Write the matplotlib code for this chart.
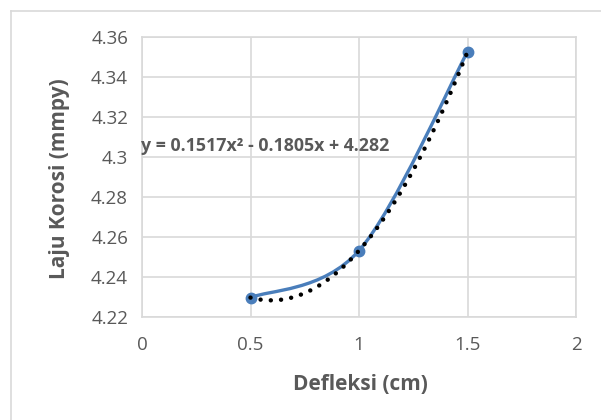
import numpy as np
import matplotlib
matplotlib.use("Agg")
import matplotlib.pyplot as plt
from matplotlib.path import Path
from matplotlib.patches import PathPatch
from matplotlib.lines import Line2D

# Data
defleksi = [0.5, 1.0, 1.5]
laju_korosi = [4.2297, 4.2532, 4.3526]
x_ticks = [0, 0.5, 1, 1.5, 2]
y_ticks = [4.22, 4.24, 4.26, 4.28, 4.30, 4.32, 4.34, 4.36]
y_tick_labels = ["4.22", "4.24", "4.26", "4.28", "4.3", "4.32", "4.34", "4.36"]
equation = "y = 0.1517x² - 0.1805x + 4.282"
x_title = "Defleksi (cm)"
y_title = "Laju Korosi (mmpy)"

W, H = 601, 420
fig = plt.figure(figsize=(W / 100, H / 100), dpi=100)
font = "Open Sans"
tick_color = "#595959"
grid_color = "#D9D9D9"
blue = "#4A7EBB"

# chart frame (left/top edges visible)
fig.add_artist(Line2D([11 / W, 11 / W], [0, 1 - 11 / H], color=grid_color, lw=1.2))
fig.add_artist(Line2D([11 / W, 1], [1 - 11 / H, 1 - 11 / H], color=grid_color, lw=1.2))

L, R, T, B = 142, 576, 37, 317
ax = fig.add_axes([L / W, 1 - B / H, (R - L) / W, (B - T) / H])
ax.set_xlim(0, 2)
ax.set_ylim(4.22, 4.36)
ax.set_xticks(x_ticks)
ax.set_xticklabels([("%g" % v) for v in x_ticks])
ax.set_yticks(y_ticks)
ax.set_yticklabels(y_tick_labels)
ax.grid(True, color=grid_color, lw=1.2)
ax.set_axisbelow(True)
for s in ax.spines.values():
    s.set_color(grid_color)
    s.set_linewidth(1.2)
ax.tick_params(length=0, colors=tick_color, labelsize=13.5, pad=10)
for lab in ax.get_xticklabels() + ax.get_yticklabels():
    lab.set_fontfamily(font)
ax.tick_params(axis="x", pad=14)

# trendline: polynomial fit of order 2
coef = np.polyfit(defleksi, laju_korosi, 2)
xs = np.linspace(min(defleksi), max(defleksi), 200)
ax.plot(xs, np.polyval(coef, xs), color="black", lw=3.2,
        linestyle=(0, (0.01, 2.3)), dash_capstyle="round", zorder=4)

# smooth line (Catmull-Rom style Bezier, Excel-like)
pts = np.column_stack([defleksi, laju_korosi])
n = len(pts)
verts = [tuple(pts[0])]
codes = [Path.MOVETO]
for i in range(n - 1):
    p0 = pts[max(i - 1, 0)]
    p1 = pts[i]
    p2 = pts[i + 1]
    p3 = pts[min(i + 2, n - 1)]
    c1 = p1 + (p2 - p0) / 6.0
    c2 = p2 - (p3 - p1) / 6.0
    verts += [tuple(c1), tuple(c2), tuple(p2)]
    codes += [Path.CURVE4] * 3
ax.add_patch(PathPatch(Path(verts, codes), facecolor="none", edgecolor=blue,
                       lw=2.4, capstyle="round", zorder=3))
ax.plot(defleksi, laju_korosi, "o", color=blue, ms=7.5, zorder=3)

ax.text(-0.005, 4.3055, equation, fontsize=12.8, fontweight="bold", color=tick_color,
        family=font, ha="left", va="center", zorder=5)

fig.text(0.5 * (L + R) / W + 1 / W, 1 - 385 / H, x_title, fontsize=15, fontweight="bold",
         color=tick_color, family=font, ha="center", va="center")
fig.text(59 / W, 1 - 179 / H, y_title, fontsize=15, fontweight="bold",
         color=tick_color, family=font, ha="center", va="center", rotation=90)

fig.savefig("out.png", dpi=100)
